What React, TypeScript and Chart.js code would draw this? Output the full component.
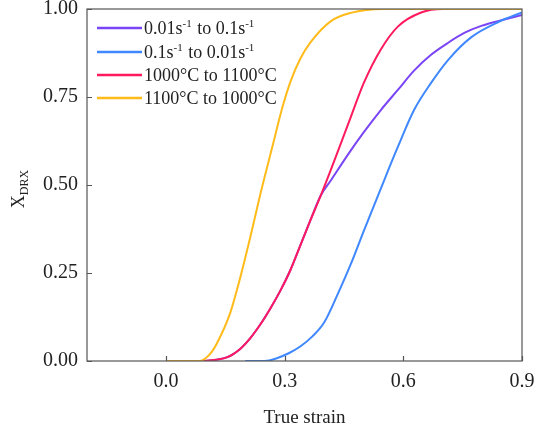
import React, { useEffect, useRef } from "react";
import { Chart, registerables } from "chart.js";

Chart.register(...registerables);

// ---- data ----
const seriesLabels = ["0.01s-1 to 0.1s-1", "0.1s-1 to 0.01s-1", "1000°C to 1100°C", "1100°C to 1000°C"];
const seriesColors = ["#7a45f5", "#3f88ff", "#ff1a5e", "#ffbb1a"];

const purpleStrain = [0.095, 0.155, 0.188, 0.213, 0.239, 0.264, 0.289, 0.315, 0.34, 0.365, 0.391, 0.416, 0.459, 0.5, 0.543, 0.586, 0.627, 0.67, 0.713, 0.754, 0.797, 0.855, 0.9];
const purpleX = [0, 0.011, 0.035, 0.065, 0.105, 0.15, 0.2, 0.26, 0.33, 0.4, 0.47, 0.512, 0.585, 0.65, 0.713, 0.77, 0.825, 0.87, 0.904, 0.932, 0.952, 0.97, 0.983];

const blueStrain = [0.2, 0.25, 0.28, 0.31, 0.34, 0.37, 0.4, 0.434, 0.467, 0.5, 0.543, 0.586, 0.627, 0.67, 0.713, 0.772, 0.84, 0.9];
const blueX = [0, 0, 0.008, 0.022, 0.042, 0.07, 0.11, 0.19, 0.275, 0.37, 0.49, 0.608, 0.713, 0.79, 0.855, 0.92, 0.963, 0.99];

const redStrain = [0.095, 0.155, 0.188, 0.213, 0.239, 0.264, 0.289, 0.315, 0.34, 0.365, 0.391, 0.424, 0.442, 0.467, 0.5, 0.543, 0.586, 0.645, 0.7, 0.9];
const redX = [0, 0.011, 0.035, 0.065, 0.105, 0.15, 0.2, 0.26, 0.33, 0.4, 0.47, 0.565, 0.618, 0.693, 0.79, 0.885, 0.95, 0.99, 1.0, 1.0];

const orangeStrain = [0.0, 0.05, 0.085, 0.1, 0.115, 0.129, 0.162, 0.188, 0.213, 0.239, 0.269, 0.294, 0.315, 0.34, 0.365, 0.416, 0.467, 0.55, 0.9];
const orangeX = [0, 0, 0, 0.008, 0.025, 0.051, 0.136, 0.239, 0.352, 0.477, 0.61, 0.72, 0.795, 0.86, 0.905, 0.965, 0.989, 1.0, 1.0];

const xTicks = [0.0, 0.3, 0.6, 0.9];
const yTicks = [0.0, 0.25, 0.5, 0.75, 1.0];

const FONT = "'Liberation Serif', 'Times New Roman', serif";

const toPoints = (xs: number[], ys: number[]) => xs.map((x, i) => ({ x, y: ys[i] }));

const framePlugin = {
  id: "frameAndTicks",
  afterDraw(chart: any) {
    const { ctx, chartArea } = chart;
    const { left, right, top, bottom } = chartArea;
    ctx.save();
    ctx.strokeStyle = "#555";
    ctx.lineWidth = 1.2;
    ctx.strokeRect(left, top, right - left, bottom - top);
    // inward ticks
    const xs = chart.scales.x;
    const ys = chart.scales.y;
    ctx.beginPath();
    xTicks.forEach((v) => {
      const px = Math.round(xs.getPixelForValue(v)) + 0.5;
      ctx.moveTo(px, bottom);
      ctx.lineTo(px, bottom - 5);
    });
    yTicks.forEach((v) => {
      const py = Math.round(ys.getPixelForValue(v)) + 0.5;
      ctx.moveTo(left, py);
      ctx.lineTo(left + 5, py);
    });
    ctx.stroke();

    // legend
    const legendRows = [
      [["0.01s", false], ["-1", true], [" to 0.1s", false], ["-1", true]],
      [["0.1s", false], ["-1", true], [" to 0.01s", false], ["-1", true]],
      [["1000°C to 1100°C", false]],
      [["1100°C to 1000°C", false]],
    ] as [string, boolean][][];
    const rowY = [28, 52, 75, 98];
    legendRows.forEach((parts, i) => {
      const y = rowY[i];
      ctx.strokeStyle = seriesColors[i];
      ctx.lineWidth = 2.5;
      ctx.beginPath();
      ctx.moveTo(left + 10, y);
      ctx.lineTo(left + 55, y);
      ctx.stroke();
      let x = left + 57;
      ctx.fillStyle = "#222";
      ctx.textBaseline = "alphabetic";
      ctx.textAlign = "left";
      parts.forEach(([t, sup]) => {
        ctx.font = sup ? `11px ${FONT}` : `18px ${FONT}`;
        ctx.fillText(t, x, sup ? y - 1 : y + 6);
        x += ctx.measureText(t).width + (sup ? 1 : 0);
      });
    });

    // y title X_DRX
    ctx.save();
    ctx.translate(24, (top + bottom) / 2 + 4);
    ctx.rotate(-Math.PI / 2);
    ctx.font = `18px ${FONT}`;
    const wX = ctx.measureText("X").width;
    ctx.font = `12px ${FONT}`;
    const wS = ctx.measureText("DRX").width;
    const start = -(wX + wS) / 2;
    ctx.fillStyle = "#222";
    ctx.font = `18px ${FONT}`;
    ctx.fillText("X", start, 0);
    ctx.font = `12px ${FONT}`;
    ctx.fillText("DRX", start + wX, 4);
    ctx.restore();
    ctx.restore();
  },
};

export default function App() {
  const ref = useRef<HTMLCanvasElement>(null);
  useEffect(() => {
    if (!ref.current) return;
    const data = [
      toPoints(purpleStrain, purpleX),
      toPoints(blueStrain, blueX),
      toPoints(redStrain, redX),
      toPoints(orangeStrain, orangeX),
    ];
    const orders = [3, 2, 1, 0];
    const chart = new Chart(ref.current, {
      type: "line",
      data: {
        datasets: data.map((d, i) => ({
          label: seriesLabels[i],
          data: d,
          borderColor: seriesColors[i],
          backgroundColor: seriesColors[i],
          borderWidth: 2,
          pointRadius: 0,
          cubicInterpolationMode: "monotone" as const,
          fill: false,
          order: orders[i],
        })),
      },
      options: {
        animation: false,
        responsive: false,
        layout: { padding: { top: 9, right: 13, left: 0, bottom: 0 } },
        plugins: { legend: { display: false }, tooltip: { enabled: false } },
        scales: {
          x: {
            type: "linear",
            min: -0.2,
            max: 0.9,
            afterBuildTicks: (s: any) => {
              s.ticks = xTicks.map((v) => ({ value: v }));
            },
            afterFit: (s: any) => {
              s.height = 68;
              s.paddingLeft = 0;
              s.paddingRight = 0;
            },
            grid: { display: false, drawTicks: false },
            border: { display: false },
            ticks: {
              autoSkip: false,
              maxRotation: 0,
              padding: 9,
              color: "#222",
              font: { family: FONT, size: 20 },
              callback: (v: any) => Number(v).toFixed(1),
            },
            title: {
              display: true,
              text: "True strain",
              color: "#222",
              font: { family: FONT, size: 19 },
              padding: { top: 2, bottom: 0 },
            },
          },
          y: {
            type: "linear",
            min: 0,
            max: 1,
            afterBuildTicks: (s: any) => {
              s.ticks = yTicks.map((v) => ({ value: v }));
            },
            afterFit: (s: any) => {
              s.width = 87;
              s.paddingTop = 0;
              s.paddingBottom = 0;
            },
            grid: { display: false, drawTicks: false },
            border: { display: false },
            ticks: {
              autoSkip: false,
              padding: 9,
              color: "#222",
              font: { family: FONT, size: 20 },
              callback: (v: any) => Number(v).toFixed(2),
            },
          },
        },
      },
      plugins: [framePlugin],
    });
    return () => chart.destroy();
  }, []);
  return (
    <div style={{ position: "absolute", left: 0, top: 0, width: 535, height: 429, background: "#fff" }}>
      <canvas ref={ref} width={535} height={429} />
    </div>
  );
}
